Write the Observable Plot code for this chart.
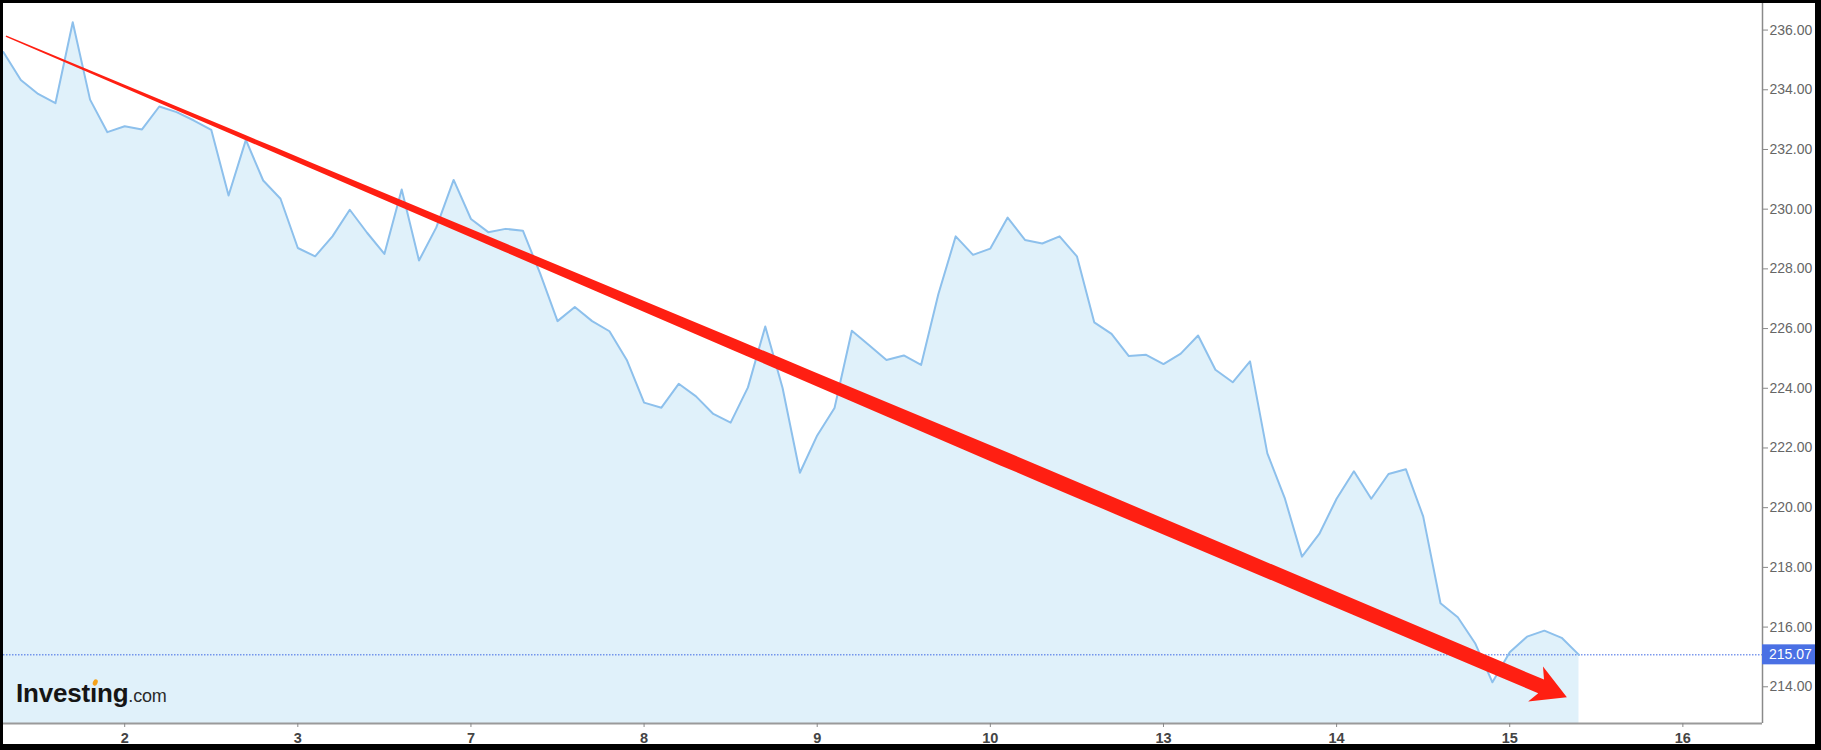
<!DOCTYPE html>
<html>
<head>
<meta charset="utf-8">
<script src="https://cdn.jsdelivr.net/npm/d3@7"></script>
<script src="https://cdn.jsdelivr.net/npm/@observablehq/plot@0.6"></script>
<style>
  html, body { margin: 0; padding: 0; background: #fff; }
  #wrap { position: relative; width: 1821px; height: 750px; overflow: hidden; }
  #border { position: absolute; left: 0; top: 0; width: 1821px; height: 750px; box-sizing: border-box;
            border-style: solid; border-color: #000; border-width: 3px 6px 6px 3px; pointer-events: none; }
</style>
</head>
<body>
<div id="wrap"><div id="chart"></div><div id="border"></div></div>
<script>
// ---- data (hourly closes) ----
const prices = [
  235.26, 234.33, 233.86, 233.55, 236.26, 233.67, 232.58, 232.78, 232.67, 233.44,
  233.25, 232.97, 232.66, 230.46, 232.32, 230.96, 230.35, 228.70, 228.42, 229.09,
  229.98, 229.21, 228.50, 230.66, 228.28, 229.39, 230.98, 229.67, 229.23, 229.34,
  229.28, 227.84, 226.25, 226.72, 226.25, 225.91, 224.95, 223.52, 223.35, 224.15,
  223.73, 223.14, 222.85, 224.03, 226.07, 224.01, 221.17, 222.42, 223.34, 225.93,
  225.44, 224.95, 225.10, 224.78, 227.16, 229.09, 228.47, 228.68, 229.72, 228.97,
  228.85, 229.09, 228.42, 226.21, 225.82, 225.08, 225.12, 224.81, 225.16, 225.77,
  224.62, 224.20, 224.90, 221.82, 220.33, 218.36, 219.12, 220.30, 221.22, 220.30,
  221.13, 221.29, 219.71, 216.80, 216.33, 215.46, 214.15, 215.16, 215.68, 215.88,
  215.64, 215.07
];
const dayTickIndex = [7, 17, 27, 37, 47, 57, 67, 77, 87, 97];
const dayLabels = ["2", "3", "7", "8", "9", "10", "13", "14", "15", "16"];
const priceTicks = [214, 216, 218, 220, 222, 224, 226, 228, 230, 232, 234, 236];
const lastPrice = prices[prices.length - 1];
const trendFrom = { i: 0.17, v: 235.78 };
const trendTo = { i: 90.33, v: 213.63 };
const xDomain = [0, 101.6];
const yDomain = [212.77, 236.89];

const data = prices.map((v, i) => ({ i, v }));
const NS = "http://www.w3.org/2000/svg";
const FONT = "'Liberation Sans', Arial, Helvetica, sans-serif";

function el(name, attrs) {
  const e = document.createElementNS(NS, name);
  for (const k in attrs) e.setAttribute(k, attrs[k]);
  return e;
}

// red trend arrow, tapered shaft, computed through the plot's scales
function trendArrow(index, scales) {
  const x0 = scales.x(trendFrom.i), y0 = scales.y(trendFrom.v);
  const x1 = scales.x(trendTo.i), y1 = scales.y(trendTo.v);
  const dx = x1 - x0, dy = y1 - y0, L = Math.hypot(dx, dy);
  const ux = dx / L, uy = dy / L, nx = -uy, ny = ux;
  const hw0 = 0.7, hwMax = 7.4, sSat = 1080;
  const notch = 28, headLen = 34, headHalf = 19;
  const hw = s => hw0 + (hwMax - hw0) * Math.min(1, s / sSat);
  const P = (s, n) => [x0 + ux * s + nx * n, y0 + uy * s + ny * n];
  const shaftEnd = L - notch;
  const top = [], bot = [];
  const steps = 40;
  for (let k = 0; k <= steps; k++) {
    const s = shaftEnd * k / steps;
    top.push(P(s, -hw(s)));
    bot.push(P(s, hw(s)));
  }
  const pts = [...top, P(L - headLen, -headHalf), P(L, 0), P(L - headLen, headHalf), ...bot.reverse()];
  const d = "M" + pts.map(p => p[0].toFixed(2) + "," + p[1].toFixed(2)).join("L") + "Z";
  return el("path", { d, fill: "#ff1f12" });
}

// last price tag on the right axis
function priceTag(index, scales, values, dims) {
  const g = el("g", {});
  const yy = scales.y(lastPrice);
  const x0 = dims.width - dims.marginRight;
  g.appendChild(el("rect", { x: x0, y: yy - 10, width: 62, height: 20, fill: "#4a70e4" }));
  const t = el("text", { x: x0 + 7, y: yy, dy: "0.35em", fill: "#fff", "font-size": 14,
                         "font-family": FONT, "text-anchor": "start" });
  t.textContent = lastPrice.toFixed(2);
  g.appendChild(t);
  return g;
}

// Investing.com logo
function logo(index, scales, values, dims) {
  const g = el("g", { class: "logo" });
  const base = dims.height - dims.marginBottom - 21.5;
  const t = el("text", { x: 16, y: base, "font-family": FONT, fill: "#151515", "text-anchor": "start" });
  const a = el("tspan", { "font-size": 26, "font-weight": "bold", "letter-spacing": "-0.2" });
  a.textContent = "Investıng";
  const b = el("tspan", { "font-size": 18, "font-weight": "normal", fill: "#2a2a2a", "letter-spacing": "-0.2" });
  b.textContent = ".com";
  t.appendChild(a); t.appendChild(b);
  g.appendChild(t);
  return g;
}

const chart = Plot.plot({
  width: 1821,
  height: 750,
  marginTop: 3,
  marginLeft: 3,
  marginRight: 59,
  marginBottom: 27,
  style: { background: "#fff", fontFamily: FONT, overflow: "visible" },
  x: { domain: xDomain },
  y: { domain: yDomain },
  marks: [
    Plot.areaY(data, { x: "i", y1: d => yDomain[0], y2: "v", fill: "#e0f1fa" }),
    Plot.ruleY([lastPrice], { stroke: "#3d68e4", strokeWidth: 1, strokeDasharray: "1.5,1.5" }),
    Plot.lineY(data, { x: "i", y: "v", stroke: "#8dc0ec", strokeWidth: 2 }),
    Plot.ruleX([xDomain[1]], { stroke: "#8a8a8a", strokeWidth: 1.5 }),
    Plot.ruleY([yDomain[0]], { stroke: "#9a9a9a", strokeWidth: 2 }),
    Plot.axisY(priceTicks, {
      anchor: "right", tickSize: 5, tickPadding: 2, label: null,
      tickFormat: d => d.toFixed(2), fontSize: 14, stroke: "#888", fill: "#666"
    }),
    Plot.axisX(dayTickIndex, {
      anchor: "bottom", tickSize: 4, tickPadding: 5, label: null,
      tickFormat: d => dayLabels[dayTickIndex.indexOf(d)], fontSize: 14.5, fontWeight: "bold",
      stroke: "#888", fill: "#444"
    }),
    logo,
    trendArrow,
    priceTag
  ]
});

document.getElementById("chart").appendChild(chart);

// orange dot of the logo "i"
try {
  const t = chart.querySelector("g.logo text");
  const ext = t.getExtentOfChar(6);
  const cx = ext.x + ext.width / 2 + 1.8;
  const cy = t.y.baseVal[0].value - 19;
  t.parentNode.appendChild(el("ellipse", { cx, cy, rx: 2.3, ry: 3.2, fill: "#f5a21b", transform: `rotate(25 ${cx} ${cy})` }));
} catch (e) {}
</script>
</body>
</html>
